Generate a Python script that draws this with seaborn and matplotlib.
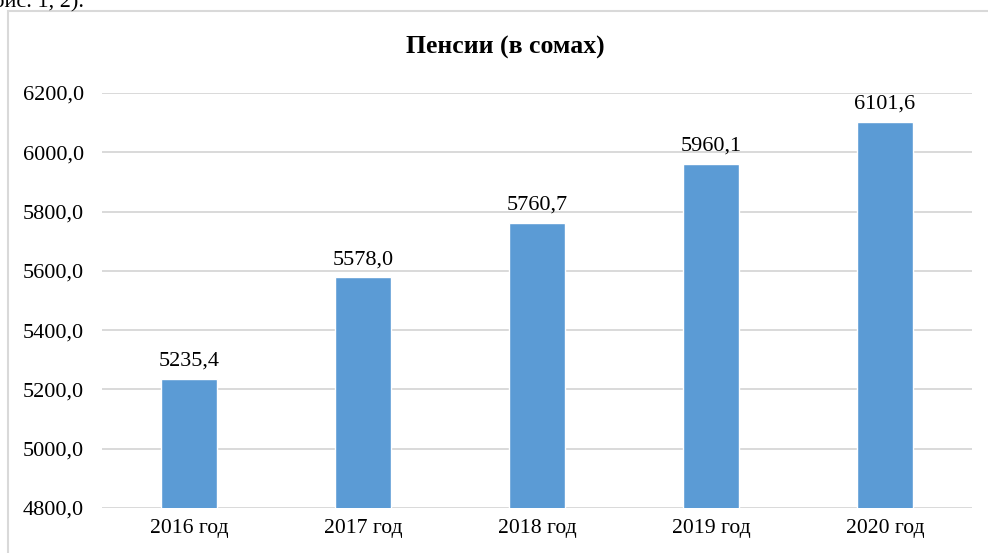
import matplotlib.pyplot as plt
import seaborn as sns
import pandas as pd
from matplotlib.patches import Rectangle

# Data
years = ['2016 год', '2017 год', '2018 год', '2019 год', '2020 год']
pensions = [5235.4, 5578.0, 5760.7, 5960.1, 6101.6]
y_ticks = [4800, 5000, 5200, 5400, 5600, 5800, 6000, 6200]

df = pd.DataFrame({'Год': years, 'Пенсия': pensions})

sns.set_style('white')
plt.rcParams['font.family'] = ['Liberation Serif', 'DejaVu Serif']
plt.rcParams['text.color'] = 'black'
plt.rcParams['xtick.color'] = 'black'
plt.rcParams['ytick.color'] = 'black'

fig = plt.figure(figsize=(9.88, 5.53), dpi=100)
ax = fig.add_axes([0.1032, 0.0814, 0.8806, 0.7504])

sns.barplot(data=df, x='Год', y='Пенсия', color='#5b9bd5', width=0.32,
            saturation=1, ax=ax)

ax.set_ylim(4800, 6200)
ax.set_yticks(y_ticks)
ax.set_yticklabels([f'{v:.1f}'.replace('.', ',') for v in y_ticks])
ax.grid(axis='y', color='#d9d9d9', linewidth=1.4)
ax.set_axisbelow(True)
for s in ax.spines.values():
    s.set_visible(False)
ax.tick_params(axis='y', length=0, pad=13, labelsize=16)
ax.tick_params(axis='x', length=0, pad=8, labelsize=15.6)
ax.set_xlabel('')
ax.set_ylabel('')

ax.bar_label(ax.containers[0],
             labels=[f'{v:.1f}'.replace('.', ',') for v in pensions],
             padding=6, fontsize=16)

fig.text(0.511, 0.915, 'Пенсии (в сомах)', ha='center', va='center',
         fontsize=18.5, fontweight='bold')

# cut-off text and frame of the source page
fig.text(-0.014, 1.014, '(рис. 1, 2).', ha='left', va='top', fontsize=16)
fig.add_artist(Rectangle((7.5 / 988, -0.1), 1.2, 1.1 - 10.5 / 553,
                         transform=fig.transFigure, fill=False,
                         edgecolor='#d9d9d9', linewidth=1.5))

plt.savefig('out.png', dpi=100)
